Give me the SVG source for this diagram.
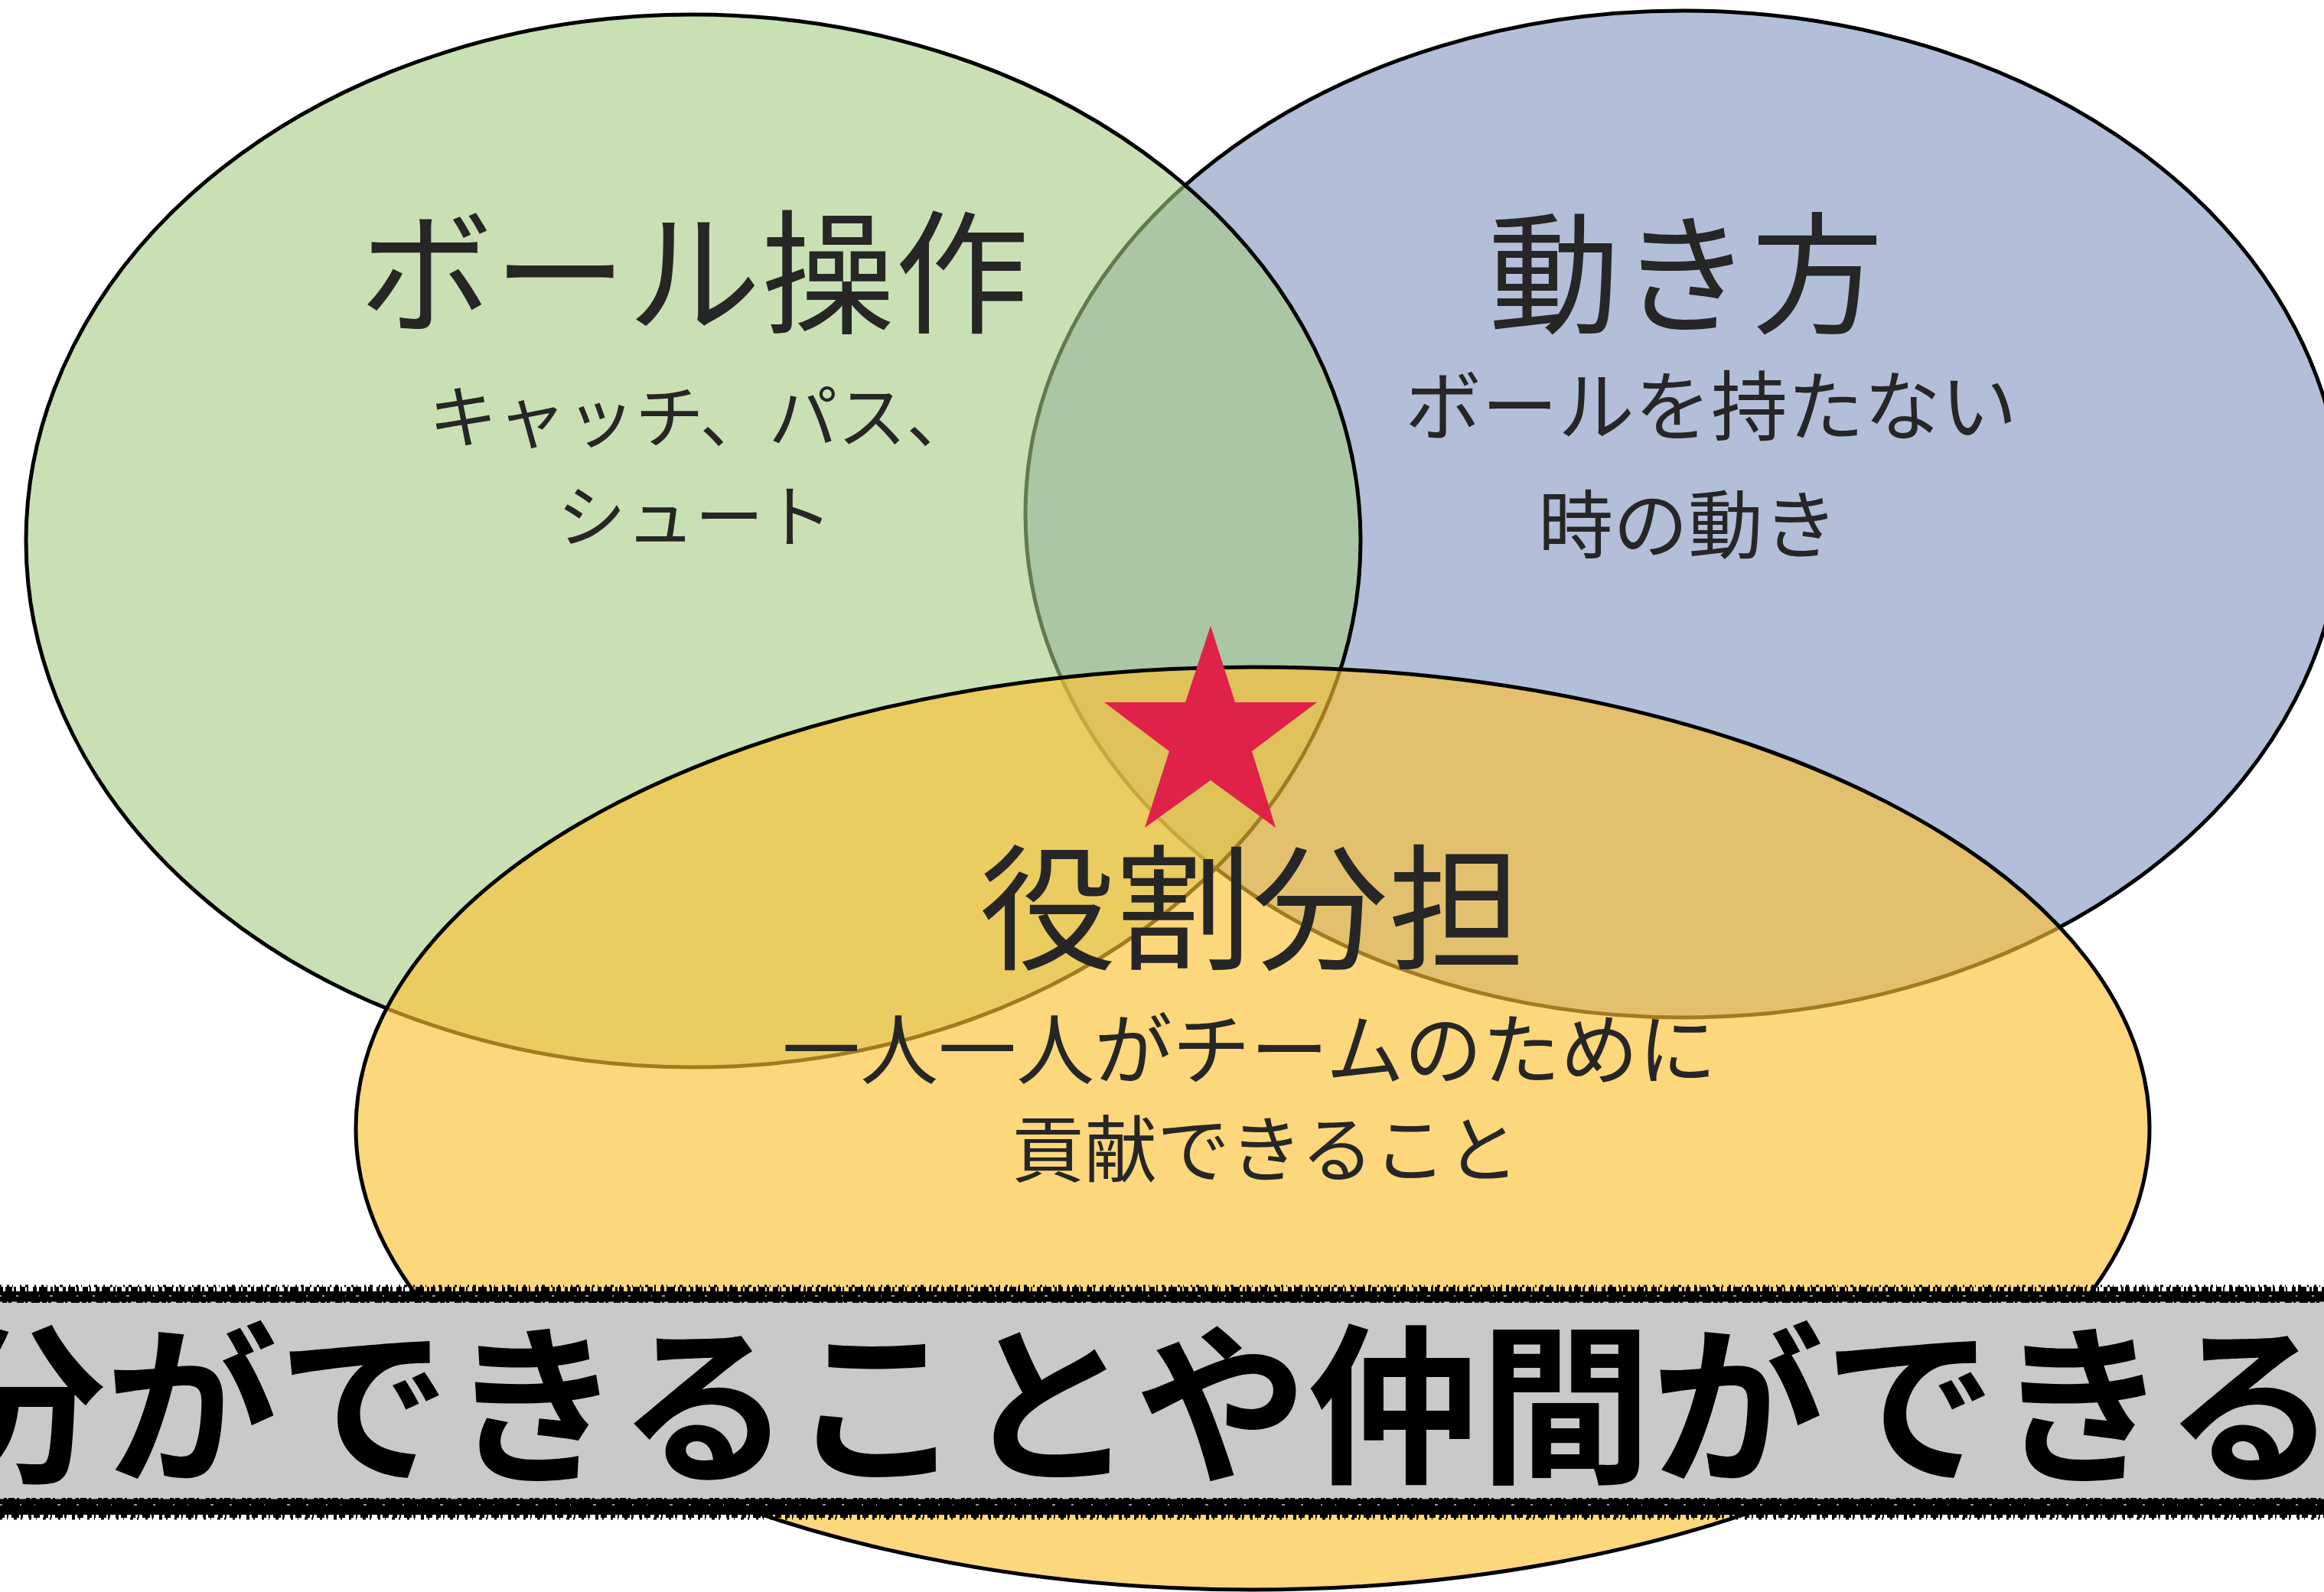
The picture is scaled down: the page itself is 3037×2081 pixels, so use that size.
<svg xmlns="http://www.w3.org/2000/svg" width="3037" height="2081" viewBox="0 0 3037 2081">
<style>
.lbl{font-family:"Noto Sans CJK JP","Noto Sans CJK SC",sans-serif;fill:#262626;font-weight:400}
.ban{font-family:"Noto Sans CJK JP","Noto Sans CJK SC",sans-serif;fill:#000;font-weight:700}
.ring{stroke:#000;stroke-width:5}
</style>
<rect x="0" y="0" width="3037" height="2081" fill="#ffffff"/>
<g id="node-blue">
<ellipse class="ring" cx="2200" cy="672" rx="860" ry="658" fill="#b3bfd8"/>
</g>
<g id="node-green">
<ellipse class="ring" cx="906" cy="707" rx="872" ry="688" fill="#a5cb82" fill-opacity="0.6"/>
</g>
<g id="node-yellow">
<ellipse class="ring" cx="1637" cy="1475" rx="1172" ry="603" fill="#fcc131" fill-opacity="0.64"/>
</g>
<g id="labels-green">
<text class="lbl" x="907" y="422" font-size="175" text-anchor="middle">ボール操作</text>
<text class="lbl" x="560" y="578" font-size="90">キャッチ、パス、</text>
<text class="lbl" x="728" y="708" font-size="90">シュート</text>
</g>
<g id="labels-blue">
<text class="lbl" x="2203" y="422" font-size="172" text-anchor="middle">動き方</text>
<text class="lbl" x="1836" y="568" font-size="100">ボールを持たない</text>
<text class="lbl" x="2010" y="722" font-size="98">時の動き</text>
</g>
<g id="labels-yellow">
<text class="lbl" x="1636" y="1254" font-size="178" text-anchor="middle">役割分担</text>
<text class="lbl" x="1022" y="1410" font-size="102">一人一人がチームのために</text>
<text class="lbl" x="1322" y="1538" font-size="95">貢献できること</text>
</g>
<g id="connectors"></g>
<g id="star">
<polygon fill="#e0214a" points="1582,818 1614,918 1721,918 1636,982 1667,1082 1582,1020 1496,1082 1528,982 1443,918 1549,918"/>
</g>
<g id="banner">
<rect x="0" y="1688" width="3037" height="16" fill="#000"/>
<line x1="0" y1="1685" x2="3037" y2="1685" stroke="#000" stroke-width="6" stroke-dasharray="4 3 9 2 3 5 7 2 2 6 5 3 11 4 3 2 6 5"/>
<line x1="0" y1="1681" x2="3037" y2="1681" stroke="#000" stroke-width="3" stroke-dasharray="2 7 3 4 1 9 2 5 4 8"/>
<rect x="0" y="1703" width="3037" height="256" fill="#c9c9c9"/>
<line x1="0" y1="1704" x2="3037" y2="1704" stroke="#c9c9c9" stroke-width="5" stroke-dasharray="3 6 2 4 7 9 2 3 5 11"/>
<line x1="0" y1="1694" x2="3037" y2="1694" stroke="#9a9a9a" stroke-width="2" stroke-dasharray="2 19 3 27 1 13 4 31"/>
<rect x="0" y="1958" width="3037" height="22" fill="#000"/>
<line x1="0" y1="1957" x2="3037" y2="1957" stroke="#c9c9c9" stroke-width="5" stroke-dasharray="5 4 2 8 3 3 9 5 2 6"/>
<line x1="0" y1="1981" x2="3037" y2="1981" stroke="#000" stroke-width="6" stroke-dasharray="6 3 2 4 10 2 3 7 4 3 8 5"/>
<line x1="0" y1="1985" x2="3037" y2="1985" stroke="#000" stroke-width="3" stroke-dasharray="3 6 1 8 4 5 2 9"/>
<line x1="0" y1="1967" x2="3037" y2="1967" stroke="#9a9a9a" stroke-width="2" stroke-dasharray="3 23 2 17 1 29 4 21"/>
<text class="ban" x="-87" y="1921" font-size="225">分ができることや仲間ができる</text>
</g>
</svg>
